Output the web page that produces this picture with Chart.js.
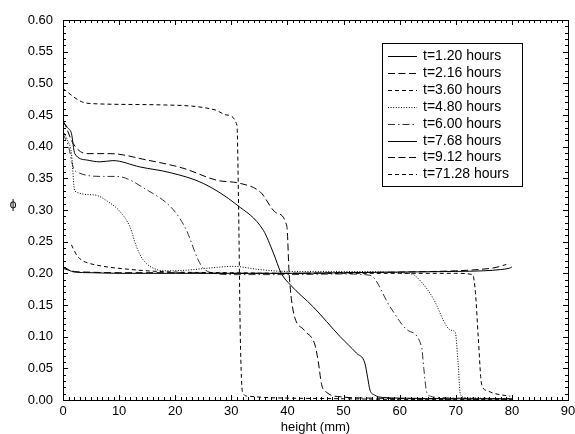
<!DOCTYPE html>
<html>
<head>
<meta charset="utf-8">
<script src="https://cdn.jsdelivr.net/npm/chart.js@4"></script>
<style>
  body { margin: 0; background: #fff; }
  canvas { display: block; }
</style>
</head>
<body>
<canvas id="phiChart" width="575" height="434"></canvas>
<script>
// perfis de fração volumétrica phi ao longo da altura

const labels = ['t=1.20 hours', 't=2.16 hours', 't=3.60 hours', 't=4.80 hours',
                't=6.00 hours', 't=7.68 hours', 't=9.12 hours', 't=71.28 hours'];

const h120 = [0, 1, 2, 5, 10, 20, 30, 40, 50, 60, 70, 75, 78, 79.5, 80];
const phi120 = [0.208, 0.205, 0.202, 0.201, 0.200, 0.200, 0.200, 0.200, 0.201, 0.202, 0.203, 0.204, 0.206, 0.208, 0.210];

const h216 = [0, 1, 2, 4, 10, 20, 30, 40, 50, 60, 70, 74, 77, 79];
const phi216 = [0.210, 0.206, 0.203, 0.202, 0.201, 0.201, 0.200, 0.200, 0.201, 0.202, 0.204, 0.206, 0.209, 0.214];

const h360 = [1.5, 2.5, 3.5, 5, 8, 11, 15, 20, 30, 40, 50, 60, 70, 73.0, 73.5, 74.0, 74.6, 75.5, 77, 79.7];
const phi360 = [0.245, 0.228, 0.220, 0.215, 0.210, 0.207, 0.204, 0.202, 0.201, 0.200, 0.200, 0.200, 0.200, 0.198, 0.170, 0.100, 0.025, 0.015, 0.010, 0.006];

const h480 = [0, 0.8, 1.5, 2.1, 5.4, 8.4, 10.2, 11.9, 13.1, 14.3, 16.7, 18.5, 22, 25.6, 30.4, 35, 40, 50, 60, 62.4, 64, 66, 68.4, 69.2, 69.9, 70.4, 70.8, 71.5, 74, 79];
const phi480 = [0.425, 0.410, 0.390, 0.330, 0.324, 0.311, 0.297, 0.274, 0.242, 0.221, 0.206, 0.204, 0.205, 0.208, 0.211, 0.206, 0.203, 0.203, 0.201, 0.198, 0.185, 0.160, 0.116, 0.110, 0.107, 0.060, 0.010, 0.004, 0.003, 0.002];

const h600 = [0, 1, 1.8, 3.0, 7.2, 9.6, 14.9, 19.7, 22.0, 24.1, 25.0, 27, 30, 40, 50, 54.7, 58.3, 61.3, 63.9, 64.3, 64.8, 65.5, 67, 70, 80];
const phi600 = [0.420, 0.400, 0.368, 0.358, 0.353, 0.353, 0.332, 0.300, 0.268, 0.221, 0.208, 0.200, 0.198, 0.198, 0.199, 0.197, 0.147, 0.111, 0.084, 0.050, 0.013, 0.006, 0.004, 0.003, 0.002];

const h768 = [0, 0.8, 1.5, 2.1, 4.2, 6.6, 8.9, 13.7, 19.1, 25.0, 31.0, 35.7, 37.5, 38.9, 40.5, 44.6, 49.4, 52.3, 53.8, 54.3, 54.7, 55.5, 57, 60, 70, 80];
const phi768 = [0.440, 0.430, 0.421, 0.389, 0.379, 0.376, 0.378, 0.368, 0.359, 0.342, 0.308, 0.268, 0.232, 0.200, 0.182, 0.147, 0.100, 0.074, 0.058, 0.035, 0.016, 0.008, 0.004, 0.003, 0.002, 0.002];

const h912 = [0, 0.4, 1.8, 4.2, 8.4, 14.9, 21.4, 27.4, 31.6, 35.1, 38.1, 39.9, 40.3, 41.0, 43, 44.9, 45.5, 46.1, 47, 49.5, 55, 65, 80];
const phi912 = [0.440, 0.434, 0.405, 0.389, 0.389, 0.379, 0.366, 0.347, 0.342, 0.329, 0.295, 0.274, 0.200, 0.142, 0.110, 0.087, 0.060, 0.024, 0.012, 0.005, 0.003, 0.002, 0.002];

const h7128 = [0, 0.4, 3.3, 5.1, 17.3, 27.1, 29.2, 31.0, 31.3, 31.6, 32.0, 33, 36, 40, 50, 60, 70, 80];
const phi7128 = [0.492, 0.489, 0.471, 0.468, 0.466, 0.458, 0.450, 0.434, 0.300, 0.100, 0.012, 0.006, 0.004, 0.003, 0.002, 0.001, 0.001, 0.001];

const xTicks = [0, 10, 20, 30, 40, 50, 60, 70, 80, 90];
const yTicks = [0, 0.05, 0.10, 0.15, 0.20, 0.25, 0.30, 0.35, 0.40, 0.45, 0.50, 0.55, 0.60];

const heights = [h120, h216, h360, h480, h600, h768, h912, h7128];
const phis = [phi120, phi216, phi360, phi480, phi600, phi768, phi912, phi7128];
const dashes = [[], [7, 3.5], [4, 3], [1, 1.6], [7, 3, 1.5, 3], [], [7, 3.5], [4, 3]];
const colors = ['#000', '#000', '#000', '#000', '#333', '#000', '#000', '#000'];

const FONT = '"Liberation Sans", Arial, Helvetica, sans-serif';

const datasets = labels.map((lab, i) => ({
    label: lab,
    data: heights[i].map((h, j) => ({ x: h, y: phis[i][j] })),
    borderColor: colors[i],
    borderWidth: 1,
    borderDash: dashes[i],
    pointRadius: 0,
    fill: false,
    showLine: true,
    cubicInterpolationMode: 'monotone'
}));

// moldura, ticks para dentro, legenda e rótulo phi
const framePlugin = {
    id: 'frame',
    afterDraw(chart) {
        const c = chart.ctx;
        const a = chart.chartArea;
        const sx = chart.scales.x, sy = chart.scales.y;
        c.save();
        c.strokeStyle = '#000';
        c.lineWidth = 1;
        c.setLineDash([]);
        c.strokeRect(Math.round(a.left) + 0.5, Math.round(a.top) + 0.5,
                     Math.round(a.right - a.left), Math.round(a.bottom - a.top));

        c.beginPath();
        for (let v = 0; v <= 90; v += 1) {
            const px = Math.round(sx.getPixelForValue(v)) + 0.5;
            const len = v % 10 === 0 ? 5 : 3;
            c.moveTo(px, a.bottom); c.lineTo(px, a.bottom - len);
            c.moveTo(px, a.top); c.lineTo(px, a.top + len);
        }
        for (let k = 0; k <= 60; k++) {
            const py = Math.round(sy.getPixelForValue(k / 100)) + 0.5;
            const len = k % 5 === 0 ? 5 : 3;
            c.moveTo(a.left, py); c.lineTo(a.left + len, py);
            c.moveTo(a.right, py); c.lineTo(a.right - len, py);
        }
        c.stroke();

        // legenda
        const bx = 382, by = 43, bw = 140, bh = 143;
        c.fillStyle = '#fff';
        c.fillRect(bx, by, bw, bh);
        c.strokeStyle = '#000';
        c.strokeRect(bx + 0.5, by + 0.5, bw, bh);
        c.font = '14px ' + FONT;
        c.textBaseline = 'middle';
        c.textAlign = 'left';
        chart.data.datasets.forEach((ds, i) => {
            const y = Math.round(56 + i * 16.9) + 0.5;
            c.beginPath();
            c.strokeStyle = ds.borderColor;
            c.setLineDash(ds.borderDash);
            c.moveTo(388, y); c.lineTo(417, y);
            c.stroke();
            c.fillStyle = '#000';
            c.fillText(ds.label, 423, y);
        });
        c.setLineDash([]);

        c.font = '12px ' + FONT;
        c.textAlign = 'center';
        c.fillText('\u03d5', 13, 205);
        c.restore();
    }
};

const ctx = document.getElementById('phiChart').getContext('2d');
const phiChart = new Chart(ctx, {
    type: 'scatter',
    data: { datasets: datasets },
    options: {
        responsive: false,
        animation: false,
        layout: { padding: { top: 20, right: 7, left: 0, bottom: 0 } },
        plugins: {
            legend: { display: false },
            tooltip: { enabled: false }
        },
        scales: {
            x: {
                type: 'linear',
                min: 0, max: 90,
                afterBuildTicks: s => { s.ticks = xTicks.map(v => ({ value: v })); },
                afterFit: s => { s.height = 34; s.paddingLeft = 0; s.paddingRight = 0; },
                grid: { display: false, drawTicks: false },
                border: { display: false },
                ticks: { color: '#000', padding: 4, font: { family: FONT, size: 13 }, maxRotation: 0 },
                title: { display: true, text: 'height (mm)', color: '#000',
                         font: { family: FONT, size: 13, lineHeight: 1 }, padding: { top: 0, bottom: 0 } }
            },
            y: {
                type: 'linear',
                min: 0, max: 0.6,
                afterBuildTicks: s => { s.ticks = yTicks.map(v => ({ value: v })); },
                afterFit: s => { s.width = 63; s.paddingTop = 0; s.paddingBottom = 0; },
                grid: { display: false, drawTicks: false },
                border: { display: false },
                ticks: { color: '#000', padding: 10, font: { family: FONT, size: 13 },
                         callback: v => v.toFixed(2) }
            }
        }
    },
    plugins: [framePlugin]
});
</script>
</body>
</html>
